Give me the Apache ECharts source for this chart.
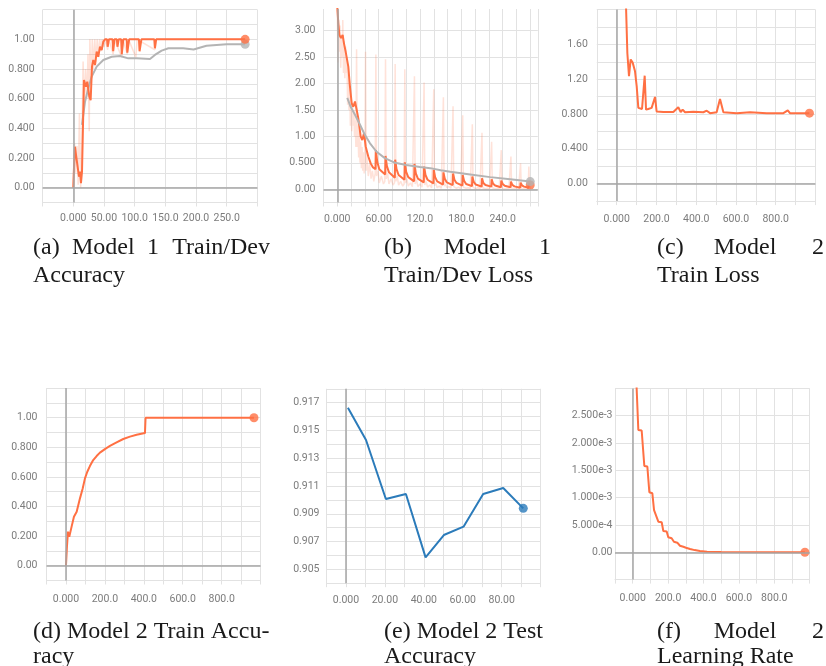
<!DOCTYPE html>
<html>
  <head>
    <meta charset="utf-8" />
    <title>Training curves</title>
    <script src="https://cdn.jsdelivr.net/npm/echarts@6/dist/echarts.min.js"></script>
    <style>
      body { margin: 0; background: #fff; }
    </style>
  </head>
  <body>
    <div id="main" style="width: 826px; height: 666px"></div>
    <script>
      // (a) model 1 train / dev accuracy
      var aTrain = [[0,0],[1,0.12],[2.8,0.276],[4.5,0.22],[6.6,0.232],[9.3,0.074],[10.9,0.108],[12.5,0.03],[14.2,0.108],
        [17.4,0.726],[20.7,0.68],[22.8,0.715],[26.1,0.614],[28.3,0.59],[30.5,0.816],[32.6,0.861],[35.4,0.827],[38.1,0.917],
        [40.7,0.883],[43.5,0.951],[46.3,0.928],[48.9,0.985],[51.7,1.0],[55,1.0],[56,0.95],[58,1.0],[64,1.0],[65,0.92],[67,1.0],
        [71,1.0],[72,0.95],[74,1.0],[78,1.0],[79,0.9],[81.5,1.0],[87,1.0],[88,0.91],[91,1.0],[107,1.0],[108,0.92],[111,1.0],
        [132,1.0],[133,0.94],[135,1.0],[280,1.0]];
      var aTrainRaw = [[0,0],[2,0.3],[4,0.1],[6,0.28],[8,0.02],[10,0.5],[12,0.0],[14,0.3],[16,0.85],[18,0.55],[20,0.8],
        [22,0.6],[24,0.9],[26,0.38],[27,1.0],[29,0.7],[31,1.0],[33,0.8],[35,1.0],[37,0.85],[39,1.0],[41,0.88],[43,1.0],
        [45,0.92],[47,1.0],[50,0.95],[52,1.0],[56,0.93],[58,1.0],[65,0.9],[67,1.0],[79,0.88],[81,1.0],[88,0.9],[90,1.0],
        [102,0.88],[104,1.0],[133,0.93],[135,1.0],[280,1.0]];
      var aDev = [[14.2,0.423],[19.1,0.58],[24.5,0.67],[30,0.749],[38.1,0.816],[48.9,0.861],[62.6,0.883],[76.1,0.888],
        [89.6,0.872],[103.3,0.872],[125,0.868],[133,0.895],[144,0.924],[155,0.94],[179,0.94],[196,0.932],[217,0.957],
        [250,0.967],[280,0.967]];

      // (b) model 1 train / dev loss
      var bTrain = [[0,3.45],[1.5,3.14],[3,2.92],[5.4,2.86],[7.8,2.92],[9.7,2.76],[12.2,2.6],[13.6,2.57],[16,2.32],
        [18.4,1.94],[20.9,1.63],[23.2,1.56],[25.7,1.66],[28.2,1.5],[30.5,1.34],[33.9,1.0],[36.3,0.93],[38.8,1.06],
        [41.2,0.81],[45,0.62],[48.5,0.49],[51.4,0.42],[55.5,0.38],
        [56,0.74],[58,0.52],[61,0.38],[69.5,0.28],[70,0.63],[72,0.44],[75,0.32],[83.5,0.22],
        [84,0.56],[86,0.38],[89,0.27],[97.5,0.18],[98,0.51],[100,0.33],[103,0.23],[111.5,0.15],
        [112,0.48],[114,0.3],[117,0.2],[125.5,0.13],[126,0.43],[128,0.27],[131,0.18],[139.5,0.11],
        [140,0.37],[142,0.23],[145,0.15],[153.5,0.09],[154,0.32],[156,0.2],[159,0.13],[167.5,0.08],
        [168,0.3],[170,0.18],[173,0.12],[181.5,0.07],[182,0.27],[184,0.16],[187,0.1],[195.5,0.06],
        [196,0.24],[198,0.14],[201,0.09],[209.5,0.05],[210,0.21],[212,0.12],[215,0.08],[223.5,0.05],
        [224,0.19],[226,0.11],[229,0.07],[237.5,0.04],[238,0.165],[240,0.1],[243,0.065],[251.5,0.04],
        [252,0.145],[254,0.085],[257,0.055],[265.5,0.03],[266,0.125],[268,0.075],[271,0.05],[277.5,0.03],
        [278,0.11],[280,0.08]];
      var bTrainRaw = [[0,3.4],[1,2.4],[2,3.2],[3,2.6],[4,3.1],[5,2.3],[6,2.9],[7,2.5],[8,3.2],[9,2.2],[10,2.8],[11,2.1],
        [12,2.7],[13,2.2],[14,2.5],[15,1.6],[16,2.3],[17,1.5],[18,1.9],[19,1.2],[20,1.7],[21,1.1],[22,1.6],[23,1.2],
        [24,1.5],[25,1.0],[26,1.3],[27,0.8],[28,2.65],[29,0.8],[30,1.2],[31,0.6],[32,1.1],[33,0.5],[34,0.9],[35,0.4],
        [36,0.8],[37,0.35],[38,0.7],[39,0.3],[40,0.6],[41,2.6],[42,0.35],[43,0.6],[45,0.25],[47,0.5],[49,0.2],[51,0.35],
        [53,0.15],[55,0.3],[56,2.55],[57,0.25],[59,0.35],[61,0.12],[64,0.25],[67,0.1],[69,0.15],
        [70,2.46],[71,0.2],[73,0.3],[75,0.1],[78,0.2],[81,0.08],[83,0.12],
        [84,2.37],[85,0.15],[87,0.25],[89,0.08],[92,0.15],[95,0.06],[97,0.1],
        [98,2.27],[99,0.12],[101,0.2],[103,0.06],[106,0.12],[109,0.05],[111,0.08],
        [112,2.14],[113,0.1],[115,0.18],[117,0.05],[120,0.1],[123,0.04],[125,0.06],
        [126,2.02],[127,0.08],[129,0.15],[131,0.04],[134,0.08],[137,0.03],[139,0.05],
        [140,1.89],[141,0.07],[143,0.12],[145,0.03],[148,0.06],[151,0.02],[153,0.04],
        [154,1.74],[155,0.06],[157,0.1],[159,0.03],[162,0.05],[165,0.02],[167,0.03],
        [168,1.57],[169,0.05],[171,0.08],[173,0.02],[176,0.04],[179,0.01],[181,0.03],
        [182,1.4],[183,0.04],[185,0.07],[187,0.02],[190,0.03],[193,0.01],[195,0.02],
        [196,1.23],[197,0.04],[199,0.06],[201,0.01],[204,0.03],[207,0.01],[209,0.02],
        [210,1.07],[211,0.03],[213,0.05],[215,0.01],[218,0.02],[221,0.01],[223,0.02],
        [224,0.9],[225,0.03],[227,0.04],[229,0.01],[232,0.02],[235,0.01],[237,0.01],
        [238,0.74],[239,0.02],[241,0.04],[243,0.01],[246,0.02],[249,0.01],[251,0.01],
        [252,0.62],[253,0.02],[255,0.03],[257,0.01],[260,0.02],[263,0.01],[265,0.01],
        [266,0.49],[267,0.02],[269,0.03],[271,0.01],[274,0.01],[277,0.01],[278,0.43],[279,0.02],[280,0.03]];
      var bDev = [[14.5,1.73],[19.4,1.56],[25.7,1.41],[33,1.22],[40,1.03],[47.5,0.87],[57,0.71],[69,0.59],[84,0.5],
        [100,0.46],[120,0.42],[135,0.4],[150,0.36],[164,0.33],[193,0.28],[222,0.23],[251,0.19],[280,0.145]];

      // (c) model 2 train loss
      var cLoss = [[40,2.6],[53.7,1.5],[62,1.235],[70.5,1.427],[80.5,1.39],[92.3,1.29],[100.7,1.12],[109,0.87],
        [117,0.888],[127.5,0.858],[134,0.85],[141,1.24],[147.7,0.85],[159,0.858],[176,0.87],[184.6,0.85],[193,0.996],
        [201,0.83],[235,0.823],[285,0.823],[310,0.877],[322,0.823],[332,0.85],[344,0.82],[386,0.827],[436,0.82],
        [453,0.838],[470,0.81],[503,0.82],[520,0.973],[537,0.82],[604,0.81],[671,0.82],[755,0.81],[839,0.81],
        [861,0.842],[872,0.81],[970,0.81]];

      // (d) model 2 train accuracy
      var dAcc = [[0,0],[5,0.128],[10.3,0.23],[17,0.196],[29,0.264],[41,0.331],[55,0.365],[72,0.455],[85.6,0.52],
        [97.6,0.59],[109.6,0.635],[123,0.673],[140,0.714],[157.5,0.741],[174.7,0.764],[200,0.788],[226,0.809],
        [260,0.833],[294.5,0.856],[328.8,0.872],[363,0.885],[405.8,0.896],[409,1.0],[966,1.0]];

      // (e) model 2 test accuracy
      var eSteps = [1, 10.3, 20.5, 30.8, 40.9, 50.3, 60.4, 70.5, 80.8, 91.1];
      var eAcc = [0.91664, 0.91431, 0.91006, 0.91042, 0.90586, 0.90747, 0.90807, 0.91042, 0.91086, 0.90939];

      // (f) model 2 learning rate
      var fLr = [[0,0.0032],[20,0.00318],[31.8,0.00224],[50.7,0.00223],[65.7,0.00158],[82.7,0.00157],[94,0.0011],
        [111,0.00108],[120.6,0.00077],[131.7,0.00074],[144.8,0.00056],[163.8,0.00055],[173,0.00039],[192,0.00038],
        [201,0.000275],[220,0.000256],[233,0.000194],[252,0.000176],[267,0.00012],[286,0.0001],[301,0.000084],
        [324,0.00006],[350,0.00004],[380,0.000025],[420,0.00001],[500,0.000003],[973,0]];

      // tick labels
      var aXTicks = [0, 50, 100, 150, 200, 250];
      var aXLabels = ['0.000', '50.00', '100.0', '150.0', '200.0', '250.0'];
      var accTicks = [0, 0.2, 0.4, 0.6, 0.8, 1];
      var accLabels = ['0.00', '0.200', '0.400', '0.600', '0.800', '1.00'];
      var bXTicks = [0, 60, 120, 180, 240];
      var bXLabels = ['0.000', '60.00', '120.0', '180.0', '240.0'];
      var bYTicks = [0, 0.5, 1, 1.5, 2, 2.5, 3];
      var bYLabels = ['0.00', '0.500', '1.00', '1.50', '2.00', '2.50', '3.00'];
      var stepTicks = [0, 200, 400, 600, 800];
      var stepLabels = ['0.000', '200.0', '400.0', '600.0', '800.0'];
      var cYTicks = [0, 0.4, 0.8, 1.2, 1.6];
      var cYLabels = ['0.00', '0.400', '0.800', '1.20', '1.60'];
      var eXTicks = [0, 20, 40, 60, 80];
      var eXLabels = ['0.000', '20.00', '40.00', '60.00', '80.00'];
      var eYTicks = [0.905, 0.907, 0.909, 0.911, 0.913, 0.915, 0.917];
      var eYLabels = ['0.905', '0.907', '0.909', '0.911', '0.913', '0.915', '0.917'];
      var fYTicks = [0, 0.0005, 0.001, 0.0015, 0.002, 0.0025];
      var fYLabels = ['0.00', '5.000e-4', '1.000e-3', '1.500e-3', '2.000e-3', '2.500e-3'];

      var GRID = '#e2e2e2';
      var ZERO = '#a6a6a6';
      var LABEL = '#7c7c7c';
      var ORANGE = '#ff7043';
      var GREY = '#b4b4b4';
      var BLUE = '#2b7bba';
      var LABEL_FONT = "Roboto, sans-serif";
      var CAPTION_FONT = "'Liberation Serif', serif";

      function pick(ticks, labels) {
        return function (v) {
          for (var i = 0; i < ticks.length; i++) {
            if (Math.abs(ticks[i] - v) < 1e-9) return labels[i];
          }
          return '';
        };
      }

      // layout of the six panels
      var panels = [
        { grid: [42.6, 9.7, 214.8, 192.8], x: [-50, 300, 50, aXTicks, aXLabels, 10.5], y: [-0.1, 1.2, 0.1, accTicks, accLabels, 8] },
        { grid: [323.5, 9, 214.3, 193.5], x: [-20, 291, 20, bXTicks, bXLabels, 11.5], y: [-0.25, 3.41, 0.25, bYTicks, bYLabels, 8] },
        { grid: [596.8, 9.5, 218.6, 191.6], x: [-100, 1000, 100, stepTicks, stepLabels, 13], y: [-0.2, 2.0, 0.2, cYTicks, cYLabels, 9] },
        { grid: [46.5, 388.1, 214.1, 192.4], x: [-100, 1000, 100, stepTicks, stepLabels, 13.5], y: [-0.1, 1.2, 0.1, accTicks, accLabels, 9] },
        { grid: [326.5, 388.8, 214.1, 194.4], x: [-10, 100, 10, eXTicks, eXLabels, 11.5], y: [0.904, 0.918, 0.001, eYTicks, eYLabels, 7] },
        { grid: [615, 388.4, 194.7, 191.2], x: [-100, 1000, 100, stepTicks, stepLabels, 13.5], y: [-0.0005, 0.003, 0.0005, fYTicks, fYLabels, 2.5] }
      ];

      var grids = [], xAxes = [], yAxes = [];
      panels.forEach(function (p, i) {
        grids.push({ left: p.grid[0], top: p.grid[1], width: p.grid[2], height: p.grid[3], outerBoundsMode: 'none', containLabel: false });
        xAxes.push({
          gridIndex: i, type: 'value', min: p.x[0], max: p.x[1], interval: p.x[2],
          axisLine: { show: true, onZero: false, lineStyle: { color: GRID, width: 1 } },
          axisTick: { show: true, length: 4, lineStyle: { color: GRID } },
          splitLine: { show: true, lineStyle: { color: GRID, width: 1 } },
          axisLabel: { formatter: pick(p.x[3], p.x[4]), margin: p.x[5], color: LABEL, fontFamily: LABEL_FONT, fontSize: 10.5, showMinLabel: true, showMaxLabel: true }
        });
        yAxes.push({
          gridIndex: i, type: 'value', min: p.y[0], max: p.y[1], interval: p.y[2],
          axisLine: { show: false },
          axisTick: { show: true, length: 3, lineStyle: { color: GRID } },
          splitLine: { show: true, showMaxLine: i !== 1, lineStyle: { color: i === 1 ? ['rgba(0,0,0,0)', GRID] : GRID, width: 1 } },
          axisLabel: { formatter: pick(p.y[3], p.y[4]), margin: p.y[5], color: LABEL, fontFamily: LABEL_FONT, fontSize: 10.5, showMinLabel: true, showMaxLabel: true }
        });
      });
      yAxes[1].axisTick.show = false;

      function zeroLines(i, withY) {
        var d = [{ xAxis: 0 }];
        if (withY) d.push({ yAxis: 0 });
        return {
          type: 'line', xAxisIndex: i, yAxisIndex: i, data: [], z: 1, silent: true,
          markLine: { silent: true, symbol: ['none', 'none'], label: { show: false }, animation: false,
            lineStyle: { color: ZERO, width: 1.5, type: 'solid' }, emphasis: { disabled: true }, data: d }
        };
      }
      function line(i, data, color, width, opacity) {
        return { type: 'line', xAxisIndex: i, yAxisIndex: i, data: data, symbol: 'none', showSymbol: false, z: 3,
          silent: true, lineStyle: { color: color, width: width, opacity: opacity } };
      }
      function dot(i, data, color) {
        return { type: 'scatter', xAxisIndex: i, yAxisIndex: i, data: [data[data.length - 1]], symbolSize: 9, z: 4,
          silent: true, itemStyle: { color: color } };
      }

      var ePoints = eSteps.map(function (s, k) { return [s, eAcc[k]]; });

      var series = [
        zeroLines(0, true), line(0, aTrainRaw, ORANGE, 1.5, 0.22), line(0, aDev, GREY, 2, 1), line(0, aTrain, ORANGE, 2, 1),
        dot(0, aDev, GREY), dot(0, aTrain, ORANGE),
        zeroLines(1, true), line(1, bTrainRaw, ORANGE, 1.5, 0.2), line(1, bTrain, ORANGE, 2, 1), line(1, bDev, GREY, 2, 1),
        dot(1, bTrain, ORANGE), dot(1, bDev, GREY),
        zeroLines(2, true), line(2, cLoss, ORANGE, 2, 1), dot(2, cLoss, ORANGE),
        zeroLines(3, true), line(3, dAcc, ORANGE, 2, 1), dot(3, dAcc, ORANGE),
        zeroLines(4, false), line(4, ePoints, BLUE, 2, 1), dot(4, ePoints, BLUE),
        zeroLines(5, true), line(5, fLr, ORANGE, 2, 1), dot(5, fLr, ORANGE)
      ];

      // captions (LaTeX style, justified lines placed word by word)
      var captions = [
        ['(a)', 33, 248, 'left'], ['Model', 72, 248, 'left'], ['1', 147, 248, 'left'], ['Train/Dev', 270, 248, 'right'],
        ['Accuracy', 33, 276, 'left'],
        ['(b)', 384, 248, 'left'], ['Model', 475, 248, 'center'], ['1', 551, 248, 'right'],
        ['Train/Dev Loss', 384, 276, 'left'],
        ['(c)', 657, 248, 'left'], ['Model', 745, 248, 'center'], ['2', 824, 248, 'right'],
        ['Train Loss', 657, 276, 'left'],
        ['(d) Model 2 Train Accu-', 33, 632, 'left'], ['racy', 33, 657, 'left'],
        ['(e) Model 2 Test', 384, 632, 'left'], ['Accuracy', 384, 657, 'left'],
        ['(f)', 657, 632, 'left'], ['Model', 745, 632, 'center'], ['2', 824, 632, 'right'],
        ['Learning Rate', 657, 657, 'left']
      ];
      var graphic = captions.map(function (c) {
        return { type: 'text', silent: true, x: c[1], y: c[2],
          style: { text: c[0], fill: '#1a1a1a', fontFamily: CAPTION_FONT, fontSize: 24, align: c[3], verticalAlign: 'middle' } };
      });

      var myChart = echarts.init(document.getElementById('main'), null, { renderer: 'canvas' });
      myChart.setOption({
        animation: false,
        backgroundColor: '#ffffff',
        grid: grids,
        xAxis: xAxes,
        yAxis: yAxes,
        series: series,
        graphic: graphic
      });
    </script>
  </body>
</html>
